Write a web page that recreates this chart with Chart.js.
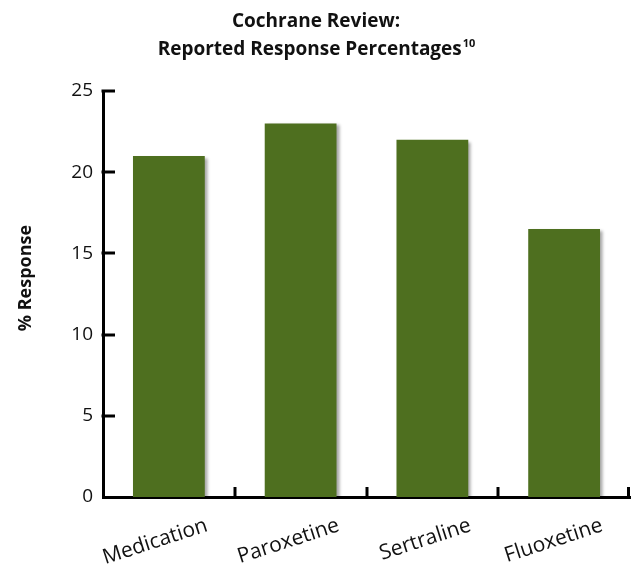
<!DOCTYPE html>
<html>
<head>
<meta charset="utf-8">
<script src="https://cdn.jsdelivr.net/npm/chart.js@4/dist/chart.umd.min.js"></script>
<style>
  html, body { margin: 0; padding: 0; background: #fff; }
  #wrap { width: 632px; height: 569px; }
</style>
</head>
<body>
<div id="wrap"><canvas id="chart" width="632" height="569"></canvas></div>
<script>
// ==================================================
// DATA
// ==================================================
const drugs = ["Medication", "Paroxetine", "Sertraline", "Fluoxetine"];
const responsePct = [21, 23, 22, 16.5];
const yTicks = [0, 5, 10, 15, 20, 25];
const titleLines = ["Cochrane Review:", "Reported Response Percentages"];
const titleRef = "10";
const yTitle = "% Response";

const FONT = "'Open Sans', 'Noto Sans', sans-serif";
const BAR_GREEN = "#4e6f1f";

// ==================================================
// PLUGINS
// ==================================================
// drop shadow behind the bars
const barShadow = {
  id: "barShadow",
  beforeDatasetsDraw(chart) {
    const ctx = chart.ctx;
    ctx.save();
    ctx.shadowColor = "rgba(0, 0, 0, 0.35)";
    ctx.shadowOffsetX = 3;
    ctx.shadowOffsetY = 2;
    ctx.shadowBlur = 3;
  },
  afterDatasetsDraw(chart) {
    chart.ctx.restore();
  },
};

// tick marks pointing into the plot area, title with superscript, axis title
const decorations = {
  id: "decorations",
  afterDraw(chart) {
    const ctx = chart.ctx;
    const { left, right, bottom } = chart.chartArea;
    const x = chart.scales.x;
    const y = chart.scales.y;

    ctx.save();
    ctx.strokeStyle = "#000";
    ctx.lineWidth = 3;
    ctx.lineCap = "butt";

    // y ticks
    yTicks.forEach((v) => {
      if (v === 0) return;
      const py = Math.round(y.getPixelForValue(v));
      ctx.beginPath();
      ctx.moveTo(left - 1.5, py);
      ctx.lineTo(left + 12, py);
      ctx.stroke();
    });

    // x ticks at category boundaries
    const half = (x.getPixelForValue(1) - x.getPixelForValue(0)) / 2;
    drugs.forEach((d, i) => {
      let px = Math.round(x.getPixelForValue(i) + half);
      if (px > right - 1.5) px = right - 1.5;
      ctx.beginPath();
      ctx.moveTo(px, bottom + 1.5);
      ctx.lineTo(px, bottom - 10);
      ctx.stroke();
    });

    // chart title
    ctx.fillStyle = "#111";
    ctx.textBaseline = "alphabetic";
    ctx.font = "bold 19px " + FONT;
    ctx.textAlign = "center";
    ctx.fillText(titleLines[0], chart.width / 2, 27);
    const w2 = ctx.measureText(titleLines[1]).width;
    ctx.font = "bold 11px " + FONT;
    const wRef = ctx.measureText(titleRef).width;
    const start = chart.width / 2 - (w2 + wRef) / 2;
    ctx.textAlign = "left";
    ctx.font = "bold 19px " + FONT;
    ctx.fillText(titleLines[1], start, 55);
    ctx.font = "bold 11px " + FONT;
    ctx.fillText(titleRef, start + w2 + 1, 47);

    // y axis title
    ctx.translate(26, 278);
    ctx.rotate(-Math.PI / 2);
    ctx.textAlign = "center";
    ctx.textBaseline = "middle";
    ctx.font = "bold 18px " + FONT;
    ctx.fillText(yTitle, 0, 0);
    ctx.restore();
  },
};

// ==================================================
// CHART
// ==================================================
const ctx = document.getElementById("chart").getContext("2d");

new Chart(ctx, {
  type: "bar",
  data: {
    labels: drugs,
    datasets: [
      {
        data: responsePct,
        backgroundColor: BAR_GREEN,
        borderWidth: 0,
        categoryPercentage: 1,
        barPercentage: 0.545,
      },
    ],
  },
  options: {
    responsive: false,
    animation: false,
    devicePixelRatio: 1,
    layout: { padding: { top: 91, right: 2, left: 0, bottom: 0 } },
    plugins: {
      legend: { display: false },
      title: { display: false },
      tooltip: { enabled: false },
    },
    scales: {
      x: {
        z: 1,
        grid: { display: false, drawTicks: false },
        border: { display: true, color: "#000", width: 3 },
        ticks: {
          autoSkip: false,
          minRotation: 18,
          maxRotation: 18,
          labelOffset: 38,
          padding: 16,
          color: "#111",
          font: { family: FONT, size: 21 },
        },
        afterFit(scale) {
          scale.height = 72;
        },
      },
      y: {
        z: 1,
        min: 0,
        max: 25,
        grid: { display: false, drawTicks: false },
        border: { display: true, color: "#000", width: 3 },
        ticks: {
          stepSize: 5,
          padding: 10,
          color: "#111",
          font: { family: FONT, size: 19 },
        },
        afterFit(scale) {
          scale.width = 103;
        },
      },
    },
  },
  plugins: [barShadow, decorations],
});
</script>
</body>
</html>
